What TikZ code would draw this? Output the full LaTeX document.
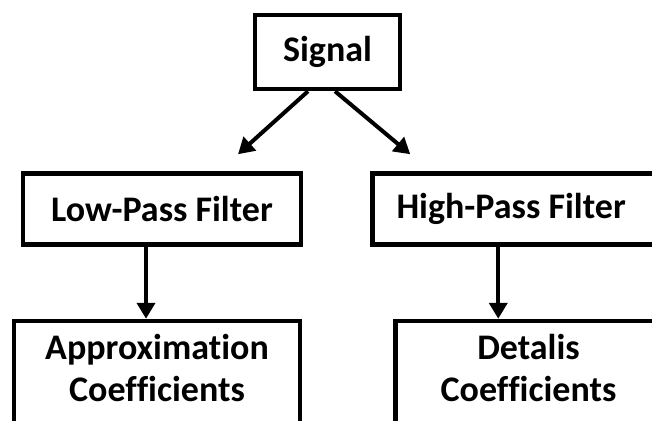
\documentclass[tikz,border=0pt]{standalone}
\usepackage{fontspec}
\setmainfont{Carlito}[Ligatures=NoCommon]
\usetikzlibrary{arrows.meta,positioning}

\begin{document}
\begin{tikzpicture}[font=\fontsize{36pt}{42pt}\selectfont\bfseries,
  box/.style={draw,line width=4.5pt,align=center,inner sep=4pt,fill=white},
  a/.style={-{Triangle[length=16pt,width=18pt]},line width=4pt}]
  \useasboundingbox (0,0) rectangle (652pt,-420pt);
  \clip (0,0) rectangle (652pt,-420pt);
  \node[box,minimum width=145pt,minimum height=74pt] (sig) at (327.5pt,-52pt) {Signal};
  \node[box,minimum width=278pt,minimum height=71pt,below=80pt of sig,xshift=-165.5pt] (low) {Low-Pass Filter};
  \node[box,minimum height=71pt,right=67pt of low,text width=280pt,align=flush left,inner xsep=24pt] (high) {High-Pass Filter};
  % lower boxes run off the bottom edge of the page
  \node[box,minimum width=286pt,below=72pt of low,xshift=-5pt,inner ysep=13pt,text depth=90pt] (approx) {Approximation\\Coefficients};
  \node[box,minimum width=266pt,right=91pt of approx.north east,anchor=north west,inner ysep=13pt,text depth=90pt] (detail) {Detalis\\Coefficients};
  \draw[a] ([xshift=-19.5pt]sig.south) -- ([xshift=76pt,yshift=17pt]low.north);
  \draw[a] ([xshift=7.5pt]sig.south) -- ([xshift=40pt,yshift=17pt]high.north west);
  \draw[a] ([xshift=-16pt]low.south) -- ([xshift=-16pt]low.south |- approx.north);
  \draw[a] ([xshift=128pt]high.south west) -- ([xshift=128pt]high.south west |- detail.north);
\end{tikzpicture}
\end{document}
